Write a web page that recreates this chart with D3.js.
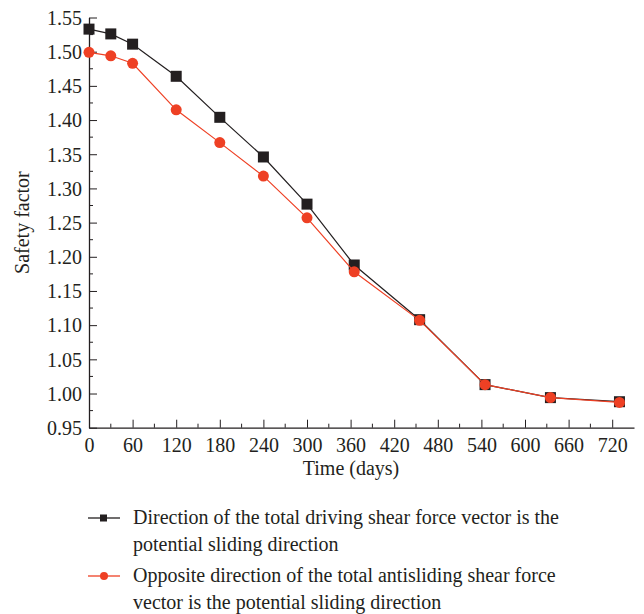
<!DOCTYPE html>
<html>
<head>
<meta charset="utf-8">
<script src="https://cdn.jsdelivr.net/npm/d3@7"></script>
<style>
  body { margin: 0; background: #fff; }
  svg text { font-family: "Liberation Serif", "DejaVu Serif", serif; fill: #231f20; }
</style>
</head>
<body>
<div id="chart"></div>
<script>
// Time in days
const days = [0, 30, 60, 120, 180, 240, 300, 365, 455, 545, 635, 730];
// Safety factor, driving shear force direction
const drivingSF = [1.533, 1.526, 1.511, 1.464, 1.404, 1.346, 1.277, 1.188, 1.108, 1.013, 0.994, 0.988];
// Safety factor, opposite antisliding direction
const antiSF = [1.499, 1.494, 1.483, 1.415, 1.367, 1.318, 1.257, 1.178, 1.107, 1.013, 0.994, 0.987];
const xTicks = [0, 60, 120, 180, 240, 300, 360, 420, 480, 540, 600, 660, 720];
const yTicks = [0.95, 1.00, 1.05, 1.10, 1.15, 1.20, 1.25, 1.30, 1.35, 1.40, 1.45, 1.50, 1.55];
const legendLabels = [
  ["Direction of the total driving shear force vector is the", "potential sliding direction"],
  ["Opposite direction of the total antisliding shear force", "vector is the potential sliding direction"]
];

const W = 644, H = 614;
const ink = "#231f20", red = "#ee4024";

const svg = d3.select("#chart").append("svg")
  .attr("width", W).attr("height", H);

const x = d3.scaleLinear().domain([0, 750]).range([89, 634]);
const y = d3.scaleLinear().domain([0.95, 1.55]).range([427.7, 17.5]);

// minor ticks
const g = svg.append("g");
d3.range(30, 750, 60).forEach(v => {
  g.append("line").attr("x1", x(v)).attr("x2", x(v))
    .attr("y1", y(0.95)).attr("y2", y(0.95) - 4)
    .attr("stroke", ink).attr("stroke-width", 1);
});
d3.range(0.975, 1.55, 0.05).forEach(v => {
  g.append("line").attr("x1", x(0)).attr("x2", x(0) + 4)
    .attr("y1", y(v)).attr("y2", y(v))
    .attr("stroke", ink).attr("stroke-width", 1);
});

const xAxis = svg.append("g")
  .attr("transform", `translate(0,${y(0.95)})`)
  .call(d3.axisBottom(x).tickValues(xTicks).tickSizeInner(-8).tickSizeOuter(0).tickPadding(10));
const yAxis = svg.append("g")
  .attr("transform", `translate(${x(0)},0)`)
  .call(d3.axisLeft(y).tickValues(yTicks).tickFormat(d3.format(".2f")).tickSizeInner(-8).tickSizeOuter(0).tickPadding(7));

[xAxis, yAxis].forEach(a => {
  a.select(".domain").attr("stroke", ink).attr("stroke-width", 1.3);
  a.selectAll(".tick line").attr("stroke", ink).attr("stroke-width", 1);
  a.selectAll(".tick text").attr("font-size", 20).attr("fill", ink)
    .style("font-family", "'Liberation Serif', serif");
});
yAxis.selectAll(".tick text").attr("dy", "0.34em");

svg.append("text").attr("x", 351).attr("y", 475)
  .attr("text-anchor", "middle").attr("font-size", 20).text("Time (days)");
svg.append("text")
  .attr("transform", `translate(29,${(y(0.95) + y(1.55)) / 2}) rotate(-90)`)
  .attr("text-anchor", "middle").attr("font-size", 20).text("Safety factor");

const line = d3.line().x(d => x(d[0])).y(d => y(d[1]));

const ptsBlack = days.map((d, i) => [d, drivingSF[i]]);
const ptsRed = days.map((d, i) => [d, antiSF[i]]);

svg.append("path").datum(ptsBlack).attr("d", line)
  .attr("fill", "none").attr("stroke", ink).attr("stroke-width", 1.2);
svg.selectAll(".sq").data(ptsBlack).enter().append("rect")
  .attr("x", d => x(d[0]) - 5.5).attr("y", d => y(d[1]) - 5.5)
  .attr("width", 11).attr("height", 11).attr("fill", ink);

svg.append("path").datum(ptsRed).attr("d", line)
  .attr("fill", "none").attr("stroke", red).attr("stroke-width", 1.2);
svg.selectAll(".ci").data(ptsRed).enter().append("circle")
  .attr("cx", d => x(d[0])).attr("cy", d => y(d[1]))
  .attr("r", 5.5).attr("fill", red);

// legend
const lg = svg.append("g");
const entries = [{ c: ink, shape: "rect", y: 518 }, { c: red, shape: "circle", y: 576 }];
entries.forEach((e, i) => {
  lg.append("line").attr("x1", 88).attr("x2", 120).attr("y1", e.y).attr("y2", e.y)
    .attr("stroke", e.c).attr("stroke-width", 1.3);
  if (e.shape === "rect") {
    lg.append("rect").attr("x", 100).attr("y", e.y - 3.5).attr("width", 7).attr("height", 7).attr("fill", e.c);
  } else {
    lg.append("circle").attr("cx", 104).attr("cy", e.y).attr("r", 4).attr("fill", e.c);
  }
  legendLabels[i].forEach((t, j) => {
    lg.append("text").attr("x", 133).attr("y", e.y + 6 + j * 27)
      .attr("font-size", 20).text(t);
  });
});
</script>
</body>
</html>
